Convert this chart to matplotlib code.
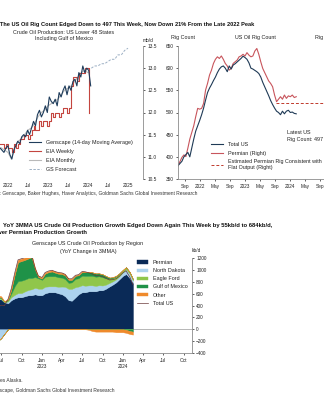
import matplotlib
matplotlib.use("Agg")
import matplotlib.pyplot as plt
import matplotlib.dates as mdates
import numpy as np
import pandas as pd

# ---------------- Panel 1: crude production (mb/d) ----------------
genscape_start = "2021-10-20"   # sampled every 18 days
genscape = [11.2, 11.15, 11.1, 11.2, 11.25, 11.05, 10.95, 11.15, 11.25, 11.35, 11.3, 11.45,
            11.5, 11.45, 11.6, 11.5, 11.65, 11.8, 11.7, 11.95, 12.05, 11.9, 12.0, 12.15,
            12.0, 12.35, 12.25, 12.2, 12.3, 12.15, 12.45, 12.35, 12.5, 12.6, 12.4, 12.6,
            12.5, 12.7, 12.75, 12.6, 12.9, 12.8, 13.05, 12.9, 13.0, 12.95, 12.6]
eia_weekly = [11.3, 11.3, 11.2, 11.3, 11.2, 11.2, 11.1, 11.3, 11.2, 11.3, 11.4, 11.4,
              11.5, 11.5, 11.4, 11.5, 11.6, 11.7, 11.6, 11.6, 11.8, 11.7, 11.8, 11.8,
              11.7, 11.8, 12.0, 11.9, 12.0, 12.0, 11.9, 12.0, 12.1, 12.1, 12.0, 12.1,
              12.6, 12.8, 12.8, 12.7, 12.9, 12.9, 12.9, 13.0, 13.0, 12.0]
eia_monthly_start = "2021-11-01"
eia_monthly = [11.2, 11.15, 11.1, 10.95, 11.2, 11.35, 11.4, 11.5, 11.6, 11.65, 11.75, 11.9,
               12.0, 12.05, 12.15, 12.2, 12.25, 12.3, 12.4, 12.5, 12.55, 12.6, 12.7, 12.8,
               12.9, 12.95, 12.9]
forecast_start = "2024-02-01"
gs_forecast = [13.0, 13.05, 13.05, 13.1, 13.1, 13.15, 13.2, 13.2, 13.3, 13.3, 13.4, 13.45]
prod_yticks = [10.5, 11.0, 11.5, 12.0, 12.5, 13.0, 13.5]
prod_xticks = ["2022-01-01", "2022-07-01", "2023-01-01", "2023-07-01", "2024-01-01", "2024-07-01", "2025-01-01"]
prod_xlabels = ["2022", "Jul", "2023", "Jul", "2024", "Jul", "2025"]

# ---------------- Panel 2: oil rig count ----------------
rig_start = "2021-07-06"   # sampled every 16 days
total_us_rigs = [380, 385, 390, 400, 405, 410, 400, 420, 440, 458, 470, 482, 495, 510, 528, 545,
                 555, 563, 572, 580, 590, 598, 603, 605, 600, 592, 605, 598, 607, 610, 614, 618,
                 622, 627, 624, 620, 612, 600, 598, 595, 592, 588, 580, 568, 558, 548, 538, 527,
                 518, 510, 503, 500, 495, 503, 497, 503, 505, 500, 501, 498, 497]
permian_rigs = [216, 221, 226, 229, 227, 237, 248, 256, 264, 275, 285, 284, 285, 291, 307, 315,
                325, 331, 339, 344, 347, 345, 348, 344, 339, 336, 331, 333, 339, 341, 343, 347,
                348, 350, 348, 352, 349, 347, 348, 354, 357, 350, 341, 333, 328, 323, 318, 315,
                311, 301, 293, 296, 299, 296, 301, 297, 300, 299, 301, 298, 299]
flat_output_dates = ["2023-09-12", "2025-08-01"]
flat_output_rigs = [292, 292]
rig_yticks = [350, 400, 450, 500, 550, 600, 650]
rig_xticks = ["2021-09-01", "2022-01-01", "2022-05-01", "2022-09-01", "2023-01-01", "2023-05-01",
              "2023-09-01", "2024-01-01", "2024-05-01", "2024-09-01"]
rig_xlabels = ["Sep", "2022", "May", "Sep", "2023", "May", "Sep", "2024", "May", "Sep"]

# ---------------- Panel 3: YoY change by region (kb/d) ----------------
region_start = "2022-06-15"   # semi-monthly
permian = [522, 505, 455, 438, 488, 522, 539, 539, 556, 573, 573, 589, 573, 573, 606, 623,
           623, 623, 606, 589, 556, 490, 480, 539, 590, 623, 623, 640, 640, 640, 657, 657,
           680, 720, 750, 790, 840, 900, 930, 860, 780]
north_dakota = [-200, -150, -80, 30, 50, 60, 70, 70, 80, 90, 100, 110, 110, 110, 110, 100,
                100, 100, 110, 130, 160, 190, 200, 170, 130, 120, 110, 100, 100, 90, 85, 80,
                70, 60, 55, 50, 50, 60, 80, 70, 40]
eagle_ford = [20, 20, 10, 20, 60, 150, 200, 210, 200, 200, 190, 180, 175, 150, 170, 170,
              170, 170, 160, 150, 130, 100, 110, 140, 140, 160, 165, 160, 160, 155, 150, 140,
              110, 70, 55, 50, 45, 40, 35, 30, 25]
gulf_of_mexico = [10, 10, 0, 10, 60, 200, 320, 330, 330, 330, 350, 120, 20, 20, 50, 70,
                  80, 60, 60, 60, 60, 50, 40, 50, 50, 60, 70, 60, 60, 55, 50, 50,
                  40, 20, 15, 10, 5, 0, -10, -30, -40]
other = [20, 20, 10, 10, 20, 30, 40, 40, 40, 40, 40, 30, 20, 20, 20, 20,
         20, 20, 20, 20, 20, 20, 20, 10, 10, 10, 0, -10, -30, -40, -40, -40,
         -40, -40, -40, -50, -50, -50, -50, -50, -50]
region_labels = ["Permian", "North Dakota", "Eagle Ford", "Gulf of Mexico", "Other"]
region_yticks = [-400, -200, 0, 200, 400, 600, 800, 1000, 1200]
region_xticks = ["2022-07-01", "2022-10-01", "2023-01-01", "2023-04-01", "2023-07-01",
                 "2023-10-01", "2024-01-01", "2024-04-01", "2024-07-01", "2024-10-01"]
region_xlabels = ["Jul", "Oct", "Jan\n2023", "Apr", "Jul", "Oct", "Jan\n2024", "Apr", "Jul", "Oct"]

# ---------------- styling ----------------
plt.rcParams["font.family"] = ["Liberation Sans", "DejaVu Sans"]
TXT = "#222222"
SPINE = "#8c8c8c"
BOLD = ["Liberation Sans Narrow", "Liberation Sans", "DejaVu Sans"]
FS_TICK = 3.4
FS_LEG = 3.9

W, H = 324, 400
fig = plt.figure(figsize=(W / 100, H / 100), dpi=100)
fig.patch.set_facecolor("white")


def rect(x0, y0, x1, y1):
    return [x0 / W, 1 - y1 / H, (x1 - x0) / W, (y1 - y0) / H]


def fp(x, y):
    return x / W, 1 - y / H


def date_at(px, px_ref, date_ref, px_per_year):
    return mdates.date2num(pd.Timestamp(date_ref)) + (px - px_ref) / px_per_year * 365.25


def dnum(strs):
    return [mdates.date2num(pd.Timestamp(s)) for s in strs]


def style_axis(ax, show):
    for k, sp in ax.spines.items():
        sp.set_visible(k in show)
        sp.set_color(SPINE)
        sp.set_linewidth(0.6)
    ax.tick_params(labelsize=FS_TICK, colors=TXT, length=1.5, width=0.5, pad=1.5)
    ax.patch.set_alpha(0)


# ===== Panel 1 =====
ax1 = fig.add_axes(rect(-40, 46, 143, 179))
ax1.set_xlim(date_at(-40, 8, "2022-01-01", 40), date_at(143, 8, "2022-01-01", 40))
ax1.set_ylim(10.5, 13.5)
g_dates = pd.date_range(genscape_start, periods=len(genscape), freq="18D")
w_dates = pd.date_range(genscape_start, periods=len(eia_weekly), freq="18D")
m_dates = pd.date_range(eia_monthly_start, periods=len(eia_monthly), freq="MS")
f_dates = pd.date_range(forecast_start, periods=len(gs_forecast), freq="MS")
l_m, = ax1.plot(m_dates, eia_monthly, color="#b9b9b9", lw=0.8, label="EIA Monthly")
l_w, = ax1.plot(w_dates, eia_weekly, color="#c4453f", lw=0.8, drawstyle="steps-post", label="EIA Weekly")
l_g, = ax1.plot(g_dates, genscape, color="#1f3d5c", lw=0.8, label="Genscape (14-day Moving Average)")
l_f, = ax1.plot(f_dates, gs_forecast, color="#9db0c4", lw=0.7, ls=(0, (2.5, 1.5)), label="GS Forecast")
ax1.yaxis.tick_right()
ax1.set_yticks(prod_yticks)
ax1.set_yticklabels([f"{v:.1f}" for v in prod_yticks])
ax1.set_xticks(dnum(prod_xticks))
ax1.set_xticklabels(prod_xlabels)
style_axis(ax1, ["right"])
ax1.tick_params(axis="x", length=0, pad=3)
leg1 = ax1.legend(handles=[l_g, l_w, l_m, l_f], loc="upper left", bbox_to_anchor=fp(29, 140),
                  bbox_transform=fig.transFigure, frameon=False, fontsize=FS_LEG,
                  handlelength=2.3, handletextpad=0.8, labelspacing=0.75, borderpad=0, borderaxespad=0)
for t in leg1.get_texts():
    t.set_color(TXT)

# ===== Panel 2 =====
ax2 = fig.add_axes(rect(178, 46, 350, 179))
ax2.set_xlim(date_at(178, 185, "2021-09-01", 45), date_at(350, 185, "2021-09-01", 45))
ax2.set_ylim(350, 650)
ax2r = ax2.twinx()
ax2r.set_ylim(200, 360)
r_dates = pd.date_range(rig_start, periods=len(total_us_rigs), freq="16D")
p_dates = pd.date_range(rig_start, periods=len(permian_rigs), freq="16D")
l_p, = ax2r.plot(p_dates, permian_rigs, color="#c8555c", lw=0.8, label="Permian (Right)")
l_fl, = ax2r.plot(pd.to_datetime(flat_output_dates), flat_output_rigs, color="#c0392b", lw=0.7,
                  ls=(0, (3, 2)), label="Estimated Permian Rig Consistent with\nFlat Output (Right)")
l_t, = ax2.plot(r_dates, total_us_rigs, color="#1f3a56", lw=0.8, label="Total US")
ax2.set_zorder(ax2r.get_zorder() + 1)
ax2.set_yticks(rig_yticks)
ax2.set_xticks(dnum(rig_xticks))
ax2.set_xticklabels(rig_xlabels)
style_axis(ax2, ["left", "bottom"])
style_axis(ax2r, [])
ax2r.tick_params(labelright=False, right=False)
ax2.tick_params(axis="x", pad=2)
leg2 = ax2.legend(handles=[l_t, l_p, l_fl], loc="upper left", bbox_to_anchor=fp(211, 142),
                  bbox_transform=fig.transFigure, frameon=False, fontsize=FS_LEG,
                  handlelength=2.2, handletextpad=0.9, labelspacing=0.65, borderpad=0, borderaxespad=0)
for t in leg2.get_texts():
    t.set_color(TXT)

# ===== Panel 3 =====
ax3 = fig.add_axes(rect(-40, 258, 192, 353))
ax3.set_xlim(date_at(-40, 42, "2023-01-01", 81), date_at(192, 42, "2023-01-01", 81))
ax3.set_ylim(-400, 1200)
reg_dates = pd.date_range(region_start, periods=len(permian), freq="SMS")
colors = ["#0a2a57", "#acd2ee", "#90c64b", "#1f9248", "#ef8a2c"]
pos = np.zeros(len(permian))
neg = np.zeros(len(permian))
handles3 = []
for vals, col, lab in zip([permian, north_dakota, eagle_ford, gulf_of_mexico, other], colors, region_labels):
    v = np.asarray(vals, dtype=float)
    p = np.clip(v, 0, None)
    q = np.clip(v, None, 0)
    h = ax3.fill_between(reg_dates, pos, pos + p, color=col, lw=0.3, edgecolor=col, label=lab)
    ax3.fill_between(reg_dates, neg, neg + q, color=col, lw=0.3, edgecolor=col)
    pos = pos + p
    neg = neg + q
    handles3.append(h)
total_change = pos + neg
l_tot, = ax3.plot(reg_dates, total_change, color="#6b3a3a", lw=0.5, label="Total US")
handles3.append(l_tot)
ax3.axhline(0, color="#9a9a9a", lw=0.5, zorder=0.5)
ax3.yaxis.tick_right()
ax3.set_yticks(region_yticks)
ax3.set_xticks(dnum(region_xticks))
ax3.set_xticklabels(region_xlabels)
style_axis(ax3, ["right", "bottom"])
ax3.tick_params(axis="x", pad=2)
leg3 = ax3.legend(handles=handles3, loc="upper left", bbox_to_anchor=fp(137, 260),
                  bbox_transform=fig.transFigure, frameon=False, fontsize=FS_LEG,
                  handlelength=2.0, handleheight=0.6, handletextpad=0.9, labelspacing=0.58,
                  borderpad=0, borderaxespad=0)
for t in leg3.get_texts():
    t.set_color(TXT)

# ===== Text =====
fig.text(*fp(0, 24.5), "The US Oil Rig Count Edged Down to 497 This Week, Now Down 21% From the Late 2022 Peak",
         fontsize=4.05, fontweight="bold", family=BOLD, color="#111111", ha="left", va="center")
fig.text(*fp(64, 32), "Crude Oil Production: US Lower 48 States", fontsize=FS_LEG, color=TXT, ha="center", va="center")
fig.text(*fp(64, 38.5), "Including Gulf of Mexico", fontsize=FS_LEG, color=TXT, ha="center", va="center")
fig.text(*fp(143, 40), "mb/d", fontsize=FS_TICK, color=TXT, ha="left", va="center")
fig.text(*fp(183, 37.5), "Rig Count", fontsize=FS_LEG, color=TXT, ha="center", va="center")
fig.text(*fp(255, 37.5), "US Oil Rig Count", fontsize=FS_LEG, color=TXT, ha="center", va="center")
fig.text(*fp(315, 37.5), "Rig Count", fontsize=FS_LEG, color=TXT, ha="left", va="center")
fig.text(*fp(287, 133), "Latest US", fontsize=FS_LEG, color=TXT, ha="left", va="center")
fig.text(*fp(287, 140), "Rig Count: 497", fontsize=FS_LEG, color=TXT, ha="left", va="center")
fig.text(*fp(197, 194), "Source: Genscape, Baker Hughes, Haver Analytics, Goldman Sachs Global Investment Research",
         fontsize=3.5, color="#333333", ha="right", va="center")
fig.text(*fp(3, 225), "YoY 3MMA US Crude Oil Production Growth Edged Down Again This Week by 55kb/d to 684kb/d,",
         fontsize=4.2, fontweight="bold", family=BOLD, color="#111111", ha="left", va="center")
fig.text(*fp(87, 233), "Slower Permian Production Growth",
         fontsize=4.2, fontweight="bold", family=BOLD, color="#111111", ha="right", va="center")
fig.text(*fp(88, 244), "Genscape US Crude Oil Production by Region", fontsize=FS_LEG, color=TXT, ha="center", va="center")
fig.text(*fp(88, 251.5), "(YoY Change in 3MMA)", fontsize=FS_LEG, color=TXT, ha="center", va="center")
fig.text(*fp(192, 250), "kb/d", fontsize=FS_TICK, color=TXT, ha="left", va="center")
fig.text(*fp(23, 380), "Note: Excludes Alaska.", fontsize=3.5, color="#333333", ha="right", va="center")
fig.text(*fp(115, 390.5), "Source: Genscape, Goldman Sachs Global Investment Research",
         fontsize=3.5, color="#333333", ha="right", va="center")

fig.savefig("out.png", dpi=100, facecolor="white")
